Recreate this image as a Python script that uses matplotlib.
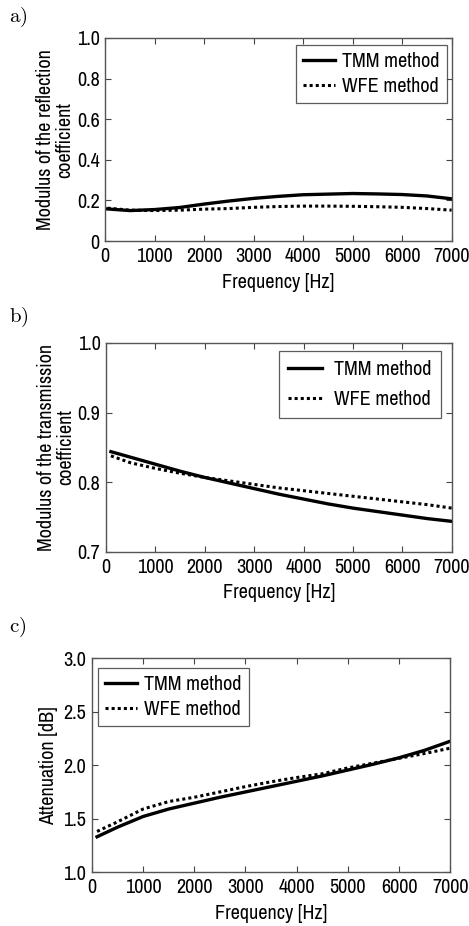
import matplotlib
matplotlib.use("Agg")
import matplotlib.pyplot as plt

plt.rcParams['font.family'] = ['Liberation Sans Narrow', 'Archivo Narrow', 'Roboto Condensed',
                               'PT Sans Narrow', 'Liberation Sans', 'DejaVu Sans']
plt.rcParams['mathtext.fontset'] = 'cm'

# ---- data ----
freq_a = [50, 500, 1000, 1500, 2000, 2500, 3000, 3500, 4000, 4500, 5000, 5500, 6000, 6500, 7000]
refl_tmm = [0.158, 0.150, 0.155, 0.165, 0.182, 0.197, 0.210, 0.220, 0.228, 0.231, 0.234, 0.232, 0.229, 0.222, 0.208]
refl_wfe = [0.162, 0.152, 0.150, 0.152, 0.157, 0.160, 0.166, 0.170, 0.172, 0.172, 0.171, 0.169, 0.166, 0.160, 0.152]

freq_b = [100, 500, 1000, 1500, 2000, 2500, 3000, 3500, 4000, 4500, 5000, 5500, 6000, 6500, 7000]
trans_tmm = [0.844, 0.836, 0.826, 0.816, 0.807, 0.799, 0.791, 0.783, 0.776, 0.769, 0.763, 0.758, 0.753, 0.748, 0.744]
trans_wfe = [0.838, 0.828, 0.820, 0.813, 0.807, 0.802, 0.797, 0.792, 0.788, 0.784, 0.780, 0.776, 0.772, 0.768, 0.763]

freq_c = [100, 500, 1000, 1500, 2000, 2500, 3000, 3500, 4000, 4500, 5000, 5500, 6000, 6500, 7000]
att_tmm = [1.33, 1.42, 1.52, 1.59, 1.645, 1.70, 1.75, 1.80, 1.85, 1.90, 1.955, 2.01, 2.07, 2.14, 2.225]
att_wfe = [1.38, 1.47, 1.59, 1.66, 1.70, 1.75, 1.80, 1.845, 1.885, 1.92, 1.975, 2.02, 2.065, 2.11, 2.16]

xticks = [0, 1000, 2000, 3000, 4000, 5000, 6000, 7000]
yticks_a = [0, 0.2, 0.4, 0.6, 0.8, 1.0]
ylabels_a = ['0', '0.2', '0.4', '0.6', '0.8', '1.0']
yticks_b = [0.7, 0.8, 0.9, 1.0]
ylabels_b = ['0.7', '0.8', '0.9', '1.0']
yticks_c = [1.0, 1.5, 2.0, 2.5, 3.0]
ylabels_c = ['1.0', '1.5', '2.0', '2.5', '3.0']
labels = ['TMM method', 'WFE method']

fig = plt.figure(figsize=(4.69, 9.26), dpi=100)

FS = 14.5

def style(ax, yt, yl, ylim):
    ax.set_xlim(0, 7000)
    ax.set_ylim(*ylim)
    ax.set_xticks(xticks)
    ax.set_xticklabels([str(x) for x in xticks], fontsize=FS)
    ax.set_yticks(yt)
    ax.set_yticklabels(yl, fontsize=FS)
    ax.tick_params(direction='in', top=True, right=True, length=4, width=0.8,
                   color='#444444')
    ax.tick_params(axis='x', pad=4)
    ax.tick_params(axis='y', pad=4)
    for s in ax.spines.values():
        s.set_color('#555555')
        s.set_linewidth(1.0)
    ax.set_xlabel('Frequency [Hz]', fontsize=FS, labelpad=5)

def leg(ax, **kw):
    lg = ax.legend(borderaxespad=0, fontsize=FS, frameon=True, fancybox=False,
                   edgecolor='#333333', **kw)
    lg.get_frame().set_linewidth(0.9)
    return lg

# a)
axa = fig.add_axes([0.224, 0.7397, 0.739, 0.2193])
axa.plot(freq_a, refl_tmm, color='black', lw=2.4, ls='-', label=labels[0])
axa.plot(freq_a, refl_wfe, color='black', lw=2.2, ls=(0, (1, 1)), label=labels[1])
style(axa, yticks_a, ylabels_a, (0, 1.0))
axa.set_ylabel('Modulus of the reflection\ncoefficient', fontsize=FS, labelpad=2, linespacing=1.0)
leg(axa, loc='upper right', bbox_to_anchor=(0.986, 0.966),
    handlelength=1.6, handletextpad=0.35, labelspacing=0.3, borderpad=0.35)
fig.text(0.02, 0.981, r'$\mathrm{a)}$', fontsize=15, ha='left', va='center')

# b)
axb = fig.add_axes([0.226, 0.4039, 0.737, 0.2257])
axb.plot(freq_b, trans_tmm, color='black', lw=2.4, ls='-', label=labels[0])
axb.plot(freq_b, trans_wfe, color='black', lw=2.2, ls=(0, (1, 1)), label=labels[1])
style(axb, yticks_b, ylabels_b, (0.7, 1.0))
axb.set_ylabel('Modulus of the transmission\ncoefficient', fontsize=FS, labelpad=2, linespacing=1.0)
leg(axb, loc='upper right', bbox_to_anchor=(0.968, 0.962),
    handlelength=1.7, handletextpad=0.6, labelspacing=0.55, borderpad=0.45)
fig.text(0.02, 0.657, r'$\mathrm{b)}$', fontsize=15, ha='left', va='center')

# c)
axc = fig.add_axes([0.196, 0.0583, 0.764, 0.2306])
axc.plot(freq_c, att_tmm, color='black', lw=2.4, ls='-', label=labels[0])
axc.plot(freq_c, att_wfe, color='black', lw=2.2, ls=(0, (1, 1)), label=labels[1])
style(axc, yticks_c, ylabels_c, (1.0, 3.0))
axc.set_ylabel('Attenuation [dB]', fontsize=FS, labelpad=4)
leg(axc, loc='upper left', bbox_to_anchor=(0.017, 0.955),
    handlelength=1.6, handletextpad=0.35, labelspacing=0.3, borderpad=0.35)
fig.text(0.02, 0.322, r'$\mathrm{c)}$', fontsize=15, ha='left', va='center')

fig.savefig('out.png', dpi=100, facecolor='white')
